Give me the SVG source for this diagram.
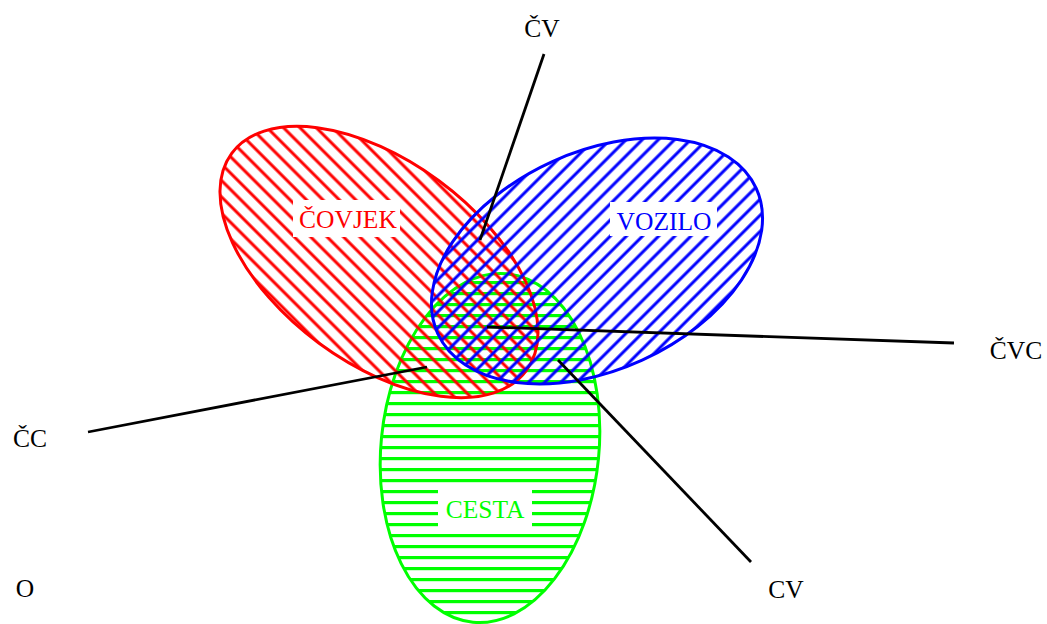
<svg xmlns="http://www.w3.org/2000/svg" width="1047" height="624" viewBox="0 0 1047 624">
<style>
.t{font-family:"Liberation Serif","Times New Roman",serif;font-size:25.5px}
.o{fill:none;stroke-width:3}
.c{stroke:#000;stroke-width:2.8;fill:none}
</style>
<defs>
<pattern id="pr" width="11.6" height="11.6" patternUnits="userSpaceOnUse" patternTransform="rotate(45)"><line x1="-1" y1="5.8" x2="13" y2="5.8" stroke="#ff0000" stroke-width="3"/></pattern>
<pattern id="pb" width="11.4" height="11.4" patternUnits="userSpaceOnUse" patternTransform="rotate(-45)"><line x1="-1" y1="5.7" x2="13" y2="5.7" stroke="#0000ff" stroke-width="3"/></pattern>
<pattern id="pg" width="11" height="11" patternUnits="userSpaceOnUse"><line x1="-1" y1="7.6" x2="12" y2="7.6" stroke="#00ff00" stroke-width="3.2"/></pattern>
<clipPath id="cr" clipPathUnits="userSpaceOnUse"><ellipse cx="379" cy="262" rx="183" ry="101" transform="rotate(36.4 379 262)"/></clipPath>
<clipPath id="cb" clipPathUnits="userSpaceOnUse"><ellipse cx="597" cy="261" rx="175" ry="109" transform="rotate(-24.5 597 261)"/></clipPath>
<clipPath id="cg" clipPathUnits="userSpaceOnUse"><ellipse cx="490" cy="448" rx="109" ry="175" transform="rotate(5.6 490 448)"/></clipPath>
</defs>
<rect width="1047" height="624" fill="#fff"/>
<g id="cesta">
<rect x="370" y="260" width="240" height="380" fill="url(#pg)" clip-path="url(#cg)"/>
<rect x="438" y="488" width="94" height="42" fill="#fff"/>
<ellipse class="o" stroke="#00ff00" stroke-width="3.2" cx="490" cy="448" rx="109" ry="175" transform="rotate(5.6 490 448)"/>
<text class="t" x="485" y="518" text-anchor="middle" fill="#00ff00">CESTA</text>
</g>
<g id="covjek">
<rect x="200" y="110" width="360" height="300" fill="url(#pr)" clip-path="url(#cr)"/>
<rect x="293" y="200" width="107" height="37" fill="#fff"/>
<ellipse class="o" stroke="#ff0000" cx="379" cy="262" rx="183" ry="101" transform="rotate(36.4 379 262)"/>
<text class="t" x="348" y="228" text-anchor="middle" fill="#ff0000">ČOVJEK</text>
</g>
<g id="vozilo">
<rect x="415" y="120" width="370" height="280" fill="url(#pb)" clip-path="url(#cb)"/>
<rect x="610" y="202" width="107" height="34" fill="#fff"/>
<ellipse class="o" stroke="#0000ff" cx="597" cy="261" rx="175" ry="109" transform="rotate(-24.5 597 261)"/>
<text class="t" x="664" y="230" text-anchor="middle" fill="#0000ff">VOZILO</text>
</g>
<g id="connectors">
<line class="c" x1="544" y1="54" x2="480" y2="240"/>
<line class="c" x1="487" y1="327" x2="954" y2="343"/>
<line class="c" x1="88" y1="432" x2="427" y2="367"/>
<line class="c" x1="558" y1="360" x2="751" y2="562"/>
</g>
<g id="labels">
<text class="t" x="542" y="37" text-anchor="middle">ČV</text>
<text class="t" x="30" y="447" text-anchor="middle">ČC</text>
<text class="t" x="25" y="597" text-anchor="middle">O</text>
<text class="t" x="1016" y="359" text-anchor="middle">ČVC</text>
<text class="t" x="786" y="598" text-anchor="middle">CV</text>
</g>
</svg>
